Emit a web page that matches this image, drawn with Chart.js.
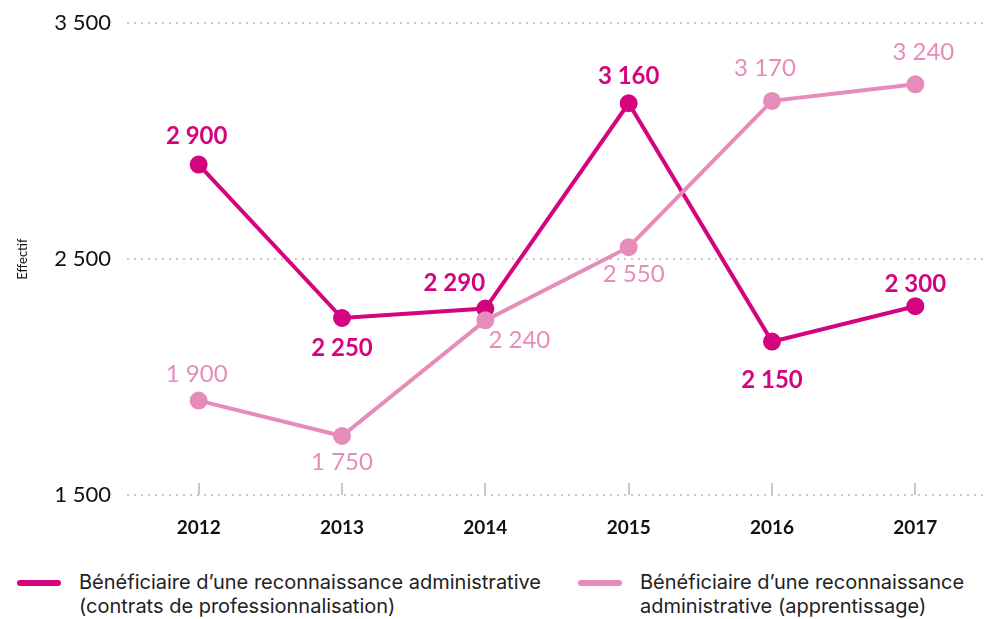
<!DOCTYPE html>
<html>
<head>
<meta charset="utf-8">
<script src="https://cdn.jsdelivr.net/npm/chart.js@4"></script>
<style>
    html, body { margin: 0; padding: 0; background: #fff; }
    #wrap { position: relative; width: 998px; height: 619px; font-family: Lato, sans-serif; }
    #chartBox { position: absolute; left: 0; top: 0; width: 998px; height: 551px; }
    .legend-item { position: absolute; top: 570px; display: flex; align-items: flex-start; }
    .legend-item .swatch { width: 44px; height: 6px; border-radius: 3px; margin-top: 10px; margin-right: 18px; }
    .legend-item .text { font-family: Inter, sans-serif; font-size: 20px; line-height: 24px; color: #222; }
</style>
</head>
<body>
<div id="wrap">
    <div id="chartBox"><canvas id="effectifChart"></canvas></div>
    <div class="legend-item" style="left:17px;">
        <div class="swatch" style="background:#d4037e"></div>
        <div class="text">Bénéficiaire d’une reconnaissance administrative<br>(contrats de professionnalisation)</div>
    </div>
    <div class="legend-item" style="left:578px;">
        <div class="swatch" style="background:#e58cba"></div>
        <div class="text">Bénéficiaire d’une reconnaissance<br>administrative (apprentissage)</div>
    </div>
</div>
<script>
const years = ['2012', '2013', '2014', '2015', '2016', '2017'];
const contratsPro = [2900, 2250, 2290, 3160, 2150, 2300];
const apprentissage = [1900, 1750, 2240, 2550, 3170, 3240];
const yTicks = [1500, 2500, 3500];

// label offsets (px) from each point
const proLabelOffsets = [[-2, -28], [0, 30], [-31, -25], [0, -27], [0, 39], [0, -22]];
const apprLabelOffsets = [[-2, -26], [0, 26], [34, 20], [5, 27], [-7, -33], [8, -32]];

const darkPink = '#d4037e';
const lightPink = '#e58cba';

const fmt = v => String(v).replace(/\B(?=(\d{3})+(?!\d))/g, ' ');

// point value labels
const valueLabels = {
    id: 'valueLabels',
    afterDatasetsDraw(chart) {
        const ctx = chart.ctx;
        chart.data.datasets.forEach((ds, di) => {
            const meta = chart.getDatasetMeta(di);
            ctx.save();
            ctx.fillStyle = ds.borderColor;
            ctx.font = (ds.labelWeight || 'normal') + ' 24px Lato';
            ctx.textAlign = 'center';
            ctx.textBaseline = 'middle';
            meta.data.forEach((pt, i) => {
                const off = ds.labelOffsets[i];
                ctx.fillText(fmt(ds.data[i]), pt.x + off[0], pt.y + off[1]);
            });
            ctx.restore();
        });
    }
};

// short ticks above the baseline at each year
const yearTicks = {
    id: 'yearTicks',
    beforeDatasetsDraw(chart) {
        const ctx = chart.ctx;
        const x = chart.scales.x;
        const bottom = chart.chartArea.bottom;
        ctx.save();
        ctx.strokeStyle = '#c8c8c8';
        ctx.lineWidth = 2;
        years.forEach((y, i) => {
            const px = Math.round(x.getPixelForValue(i));
            ctx.beginPath();
            ctx.moveTo(px, bottom - 12);
            ctx.lineTo(px, bottom);
            ctx.stroke();
        });
        ctx.restore();
    }
};

const ctx = document.getElementById('effectifChart').getContext('2d');
new Chart(ctx, {
    type: 'line',
    data: {
        labels: years,
        datasets: [{
            label: 'Bénéficiaire d’une reconnaissance administrative (contrats de professionnalisation)',
            data: contratsPro,
            borderColor: darkPink,
            backgroundColor: darkPink,
            borderWidth: 4,
            pointRadius: 7,
            pointHoverRadius: 7,
            tension: 0,
            order: 2,
            labelWeight: 'bold',
            labelOffsets: proLabelOffsets
        }, {
            label: 'Bénéficiaire d’une reconnaissance administrative (apprentissage)',
            data: apprentissage,
            borderColor: lightPink,
            backgroundColor: lightPink,
            borderWidth: 4,
            pointRadius: 7,
            pointHoverRadius: 7,
            tension: 0,
            order: 1,
            labelWeight: 'normal',
            labelOffsets: apprLabelOffsets
        }]
    },
    options: {
        responsive: true,
        maintainAspectRatio: false,
        animation: false,
        layout: { padding: { top: 23, right: 7, bottom: 0, left: 0 } },
        plugins: {
            legend: { display: false },
            tooltip: { enabled: false }
        },
        scales: {
            x: {
                offset: true,
                afterFit: scale => { scale.height = 56; scale.paddingLeft = 0; scale.paddingRight = 0; },
                grid: { display: false },
                border: { display: false },
                ticks: {
                    color: '#111',
                    font: { family: 'Lato', size: 19, weight: 'bold' },
                    padding: 13
                }
            },
            y: {
                min: 1500,
                max: 3500,
                afterBuildTicks: scale => { scale.ticks = yTicks.map(v => ({ value: v })); },
                afterFit: scale => { scale.width = 127; scale.paddingTop = 0; scale.paddingBottom = 0; },
                grid: { color: '#c8c8c8', lineWidth: 2, drawTicks: false },
                border: { display: false, dash: [2, 5] },
                ticks: {
                    color: '#111',
                    font: { family: 'Lato', size: 22 },
                    padding: 16,
                    callback: v => fmt(v)
                },
                title: {
                    display: true,
                    text: 'Effectif',
                    color: '#111',
                    font: { family: 'Lato', size: 13 },
                    padding: { top: 15, bottom: 0 }
                }
            }
        }
    },
    plugins: [valueLabels, yearTicks]
});
</script>
</body>
</html>
